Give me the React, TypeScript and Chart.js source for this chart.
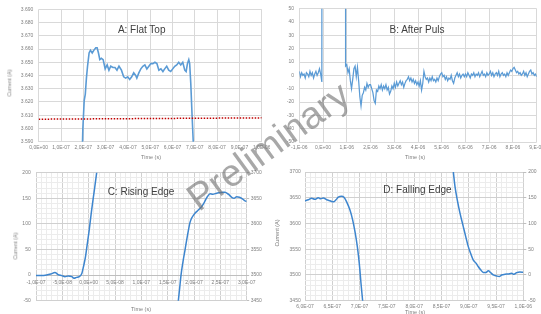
import React, { useEffect, useRef } from 'react';
import { Chart, registerables } from 'chart.js';

Chart.register(...registerables);

const FONT = "'Liberation Sans', Arial, sans-serif";
const TICK_COLOR = '#7f7f7f';
const TITLE_COLOR = '#404040';

// ---------- Panel A: Flat Top (time in ns, current in A) ----------
const aTimeNs = [192, 198, 204, 209, 214, 219, 226, 232, 240, 247, 256, 262, 268, 274, 281, 289, 298, 307, 315, 323, 333, 342, 351, 360, 371, 381, 390, 399, 408, 417, 426, 435, 440, 449, 458, 467, 476, 485, 494, 503, 512, 521, 530, 539, 548, 557, 565, 574, 583, 592, 601, 610, 619, 628, 637, 646, 655, 661, 667, 673, 677, 682, 688, 693, 698];
const aCurrentA = [3560, 3600, 3621, 3626, 3638, 3647, 3657, 3659, 3657, 3659, 3661, 3661, 3657, 3652, 3653, 3652, 3645, 3648, 3644, 3647, 3646, 3646, 3644, 3647, 3644, 3639, 3638, 3639, 3637, 3639, 3642, 3640, 3638, 3642, 3645, 3647, 3648, 3645, 3647, 3649, 3649, 3650, 3649, 3644, 3645, 3643, 3645, 3647, 3644, 3643, 3645, 3647, 3648, 3650, 3648, 3650, 3644, 3643, 3649, 3652, 3649, 3634, 3609, 3590, 3560];
const aRefTimeNs = [0, 1000];
const aRefCurrentA = [3607, 3608];
const aXTicks = [0, 100, 200, 300, 400, 500, 600, 700, 800, 900, 1000];
const aXLabels = ['0,0E+00', '1,0E-07', '2,0E-07', '3,0E-07', '4,0E-07', '5,0E-07', '6,0E-07', '7,0E-07', '8,0E-07', '9,0E-07', '1,0E-06'];
const aYTicks = [3590, 3600, 3610, 3620, 3630, 3640, 3650, 3660, 3670, 3680, 3690];
const aYLabels = ['3.590', '3.600', '3.610', '3.620', '3.630', '3.640', '3.650', '3.660', '3.670', '3.680', '3.690'];

// ---------- Panel B: After Puls (time in µs, sampled every 0.05 µs from -1 µs) ----------
const bStartUs = -1;
const bSampleUs = 0.05;
const bRowM1 = [3, -1, 2, 0, 1, -2, 2, 1, -1, 3, 0, 2, -2, 1, 3, 0, 2, 5, 1, -5];
const bRow0 = [3600, 3600, 3600, 3600, 3600, 3600, 3600, 3600, 3600, 3600, 3600, 3600, 3600, 3600, 3600, 3600, 3600, 3600, 3600, 7];
const bRow1 = [8, 2, 5, -4, -10, -3, 5, 7, -1, 6, -4, -16, -23, -15, -13, -9, -11, -6, -9, -7];
const bRow2 = [-7, -10, -13, -19, -21, -11, -12, -8, -10, -7, -11, -8, -10, -7, -11, -9, -14, -12, -8, -10];
const bRow3 = [-6, -9, -5, -8, -6, -4, -7, -5, -9, -6, -4, -3, -1, -4, -2, -5, -3, -6, -4, -7];
const bRow4 = [-5, -8, -4, -11, -6, 3, -1, -3, -2, -5, -2, -4, -1, -4, -3, -5, -2, -4, -1, 1];
const bRow5 = [2, -1, 0, -3, -1, -4, -2, -3, 0, -4, -6, -2, 0, 2, -1, 1, -2, 0, 1, -1];
const bRow6 = [1, -1, 2, 0, -2, 1, 0, 2, -1, 1, 0, 2, -1, 1, 3, 0, 1, -1, 2, 0];
const bRow7 = [1, 3, 0, 2, -1, 1, 2, 0, 3, -1, 1, 2, 0, 1, -1, 2, 0, 2, 4, 3];
const bRow8 = [5, 6, 4, 2, 3, 1, 2, 0, 1, 3, 0, 2, -1, 1, 3, 4, 1, 2, 0, 1];
const bRowEnd = [-1];
const bXTicks = [-1, 0, 1, 2, 3, 4, 5, 6, 7, 8, 9];
const bXLabels = ['-1,E-06', '0,E+00', '1,E-06', '2,E-06', '3,E-06', '4,E-06', '5,E-06', '6,E-06', '7,E-06', '8,E-06', '9,E-06'];
const bYTicks = [-50, -40, -30, -20, -10, 0, 10, 20, 30, 40, 50];
const bYLabels = ['-50', '-40', '-30', '-20', '-10', '0', '10', '20', '30', '40', '50'];

// ---------- Panel C: Rising Edge (time in ns) ----------
const cLowTimeNs = [-100, -90, -80, -72, -64, -58, -51, -45, -39, -32, -28, -23, -18, -13, -10, -6, -2.5, 1, 5.6, 10.8, 15.2, 19];
const cLowA = [-1, -1, 0, 2, 5, 1, -1, -3, -2, -3, -6, -4.5, -3, 3, 16, 36, 62, 88, 127, 166, 200, 230];
const cHighTimeNs = [163, 170.2, 172.8, 175.3, 179, 182.9, 187.5, 192.4, 197, 201.9, 205.1, 209, 214.6, 220, 225.2, 230.4, 235.5, 243.1, 249.3, 255, 258.8, 265.1, 271.6, 276, 281, 286, 290.5, 296.8, 300];
const cHighA = [3370, 3450, 3475, 3500, 3526, 3549, 3577, 3603, 3614, 3621, 3624, 3628, 3634, 3643, 3653, 3659, 3658, 3660, 3661, 3662, 3662, 3658, 3652, 3650, 3653, 3652, 3650, 3645, 3644];
const cXTicks = [-100, -50, 0, 50, 100, 150, 200, 250, 300];
const cXLabels = ['-1,0E-07', '-5,0E-08', '0,0E+00', '5,0E-08', '1,0E-07', '1,5E-07', '2,0E-07', '2,5E-07', '3,0E-07'];
const cYTicks = [-50, 0, 50, 100, 150, 200];
const cYLabels = ['-50', '0', '50', '100', '150', '200'];
const cY2Ticks = [3450, 3500, 3550, 3600, 3650, 3700];
const cY2Labels = ['3450', '3500', '3550', '3600', '3650', '3700'];

// ---------- Panel D: Falling Edge (time in ns) ----------
const dHighTimeNs = [600, 606, 612, 618, 624.4, 628.7, 633.6, 639.7, 645.8, 651.9, 656.8, 661, 667, 671.4, 676.3, 682.4, 687.3, 691.6, 695.9, 699.5, 702.6, 705.6, 710];
const dHighA = [3644, 3646, 3649, 3647, 3650, 3648, 3649.5, 3646, 3644, 3642, 3646, 3651, 3653, 3651, 3642, 3626, 3607, 3584, 3555, 3522, 3484, 3450, 3400];
const dLowTimeNs = [865, 871.8, 874.8, 879, 884, 890, 894.4, 899.2, 903.5, 908.4, 913.3, 917.6, 921.8, 926.7, 931.6, 935.9, 940.2, 945, 951.1, 956, 960.3, 966.4, 972.5, 978.6, 982.9, 987.8, 993.9, 1000];
const dLowA = [260, 200, 172, 146, 120, 94, 75, 55, 42, 29, 23, 16, 10, 5, 5, 8, 4.5, 0, -2, -3, 0, 1.3, 2, 3.2, 1.3, 4.5, 5.8, 5.2];
const dXTicks = [600, 650, 700, 750, 800, 850, 900, 950, 1000];
const dXLabels = ['6,0E-07', '6,5E-07', '7,0E-07', '7,5E-07', '8,0E-07', '8,5E-07', '9,0E-07', '9,5E-07', '1,0E-06'];
const dYTicks = [3450, 3500, 3550, 3600, 3650, 3700];
const dYLabels = ['3450', '3500', '3550', '3600', '3650', '3700'];
const dY2Ticks = [-50, 0, 50, 100, 150, 200];
const dY2Labels = ['-50', '0', '50', '100', '150', '200'];

// ---------- helpers ----------
function range(a: number, b: number, step: number) {
  const out: number[] = [];
  for (let v = a; v <= b + 1e-9; v += step) out.push(Math.round(v * 1000) / 1000);
  return out;
}

type AxisOpt = {
  position: any;
  min: number;
  max: number;
  major: number[];
  labels: string[];
  minor?: number[];
  size?: number;
  pad: number;
  tickLen?: number;
  onChart?: boolean;
  majorColor?: string;
  minorColor?: string;
  border?: string;
};

function axis(o: AxisOpt) {
  const all = o.minor ? Array.from(new Set([...o.minor, ...o.major])).sort((p, q) => p - q) : o.major;
  const majorColor = o.majorColor || '#d9d9d9';
  const minorColor = o.minorColor || '#eeeeee';
  return {
    type: 'linear',
    position: o.position,
    min: o.min,
    max: o.max,
    afterBuildTicks: (s: any) => {
      s.ticks = all.map((v) => ({ value: v }));
    },
    afterFit: (s: any) => {
      if (o.size !== undefined) {
        if (s.isHorizontal()) s.height = o.size;
        else s.width = o.size;
      }
      s.paddingLeft = 0;
      s.paddingRight = 0;
      s.paddingTop = 0;
      s.paddingBottom = 0;
    },
    grid: {
      display: true,
      drawOnChartArea: o.onChart !== false,
      drawTicks: !!o.tickLen,
      tickLength: o.tickLen || 0,
      tickColor: '#bfbfbf',
      color: (ctx: any) => (ctx.tick && o.major.indexOf(ctx.tick.value) < 0 ? minorColor : majorColor),
      lineWidth: 1,
    },
    border: { display: !!o.border, color: o.border || majorColor, width: 1 },
    ticks: {
      autoSkip: false,
      maxRotation: 0,
      minRotation: 0,
      padding: o.pad,
      color: TICK_COLOR,
      font: { family: FONT, size: 5 },
      callback: (v: any) => {
        const i = o.major.indexOf(Number(v));
        return i >= 0 ? o.labels[i] : '';
      },
    },
    title: { display: false },
  };
}

function series(xs: number[], ys: number[], color: string, width: number, yAxisID = 'y', extra: any = {}) {
  return {
    data: xs.map((x, i) => ({ x, y: ys[i] })),
    borderColor: color,
    backgroundColor: color,
    borderWidth: width,
    pointRadius: 0,
    fill: false,
    tension: 0,
    xAxisID: 'x',
    yAxisID,
    ...extra,
  };
}

function makeChart(canvas: HTMLCanvasElement, datasets: any[], scales: any, padding: any) {
  return new Chart(canvas, {
    type: 'line',
    data: { datasets },
    options: {
      responsive: false,
      animation: false,
      devicePixelRatio: 1,
      events: [],
      layout: { padding },
      plugins: { legend: { display: false }, tooltip: { enabled: false }, title: { display: false } },
      scales,
    } as any,
  } as any);
}

function Txt(props: { x: number; y: number; size: number; color: string; rotate?: number; children: any }) {
  return (
    <div
      style={{
        position: 'absolute',
        left: props.x,
        top: props.y,
        transform: `translate(-50%, -50%) rotate(${props.rotate || 0}deg)`,
        fontSize: props.size,
        color: props.color,
        fontFamily: FONT,
        whiteSpace: 'nowrap',
        lineHeight: 1,
      }}
    >
      {props.children}
    </div>
  );
}

const panelStyle = (left: number, top: number, w: number, h: number): React.CSSProperties => ({
  position: 'absolute',
  left,
  top,
  width: w,
  height: h,
  overflow: 'hidden',
});

export default function App() {
  const refA = useRef<HTMLCanvasElement>(null);
  const refB = useRef<HTMLCanvasElement>(null);
  const refC = useRef<HTMLCanvasElement>(null);
  const refD = useRef<HTMLCanvasElement>(null);

  useEffect(() => {
    const lineAB = '#5B9BD5';
    const lineCD = '#3D85CE';

    const chartA = makeChart(
      refA.current!,
      [
        series(aRefTimeNs, aRefCurrentA, '#C00000', 1.5, 'y', { borderDash: [1.5, 1.5] }),
        series(aTimeNs, aCurrentA, lineAB, 1.6),
      ],
      {
        x: axis({ position: 'bottom', min: 0, max: 1000, major: aXTicks, labels: aXLabels, size: 18.3, pad: 3 }),
        y: axis({ position: 'left', min: 3590, max: 3690, major: aYTicks, labels: aYLabels, size: 38.7, pad: 5.4 }),
      },
      { left: 0, top: 9.3, right: 8.3, bottom: 0 }
    );

    const bAll = [...bRowM1, ...bRow0, ...bRow1, ...bRow2, ...bRow3, ...bRow4, ...bRow5, ...bRow6, ...bRow7, ...bRow8, ...bRowEnd];
    const bTimes = bAll.map((_, i) => Math.round((bStartUs + i * bSampleUs) * 1000) / 1000);
    const chartB = makeChart(
      refB.current!,
      [series(bTimes, bAll, lineAB, 1.25)],
      {
        x: axis({ position: 'bottom', min: -1, max: 9, major: bXTicks, labels: bXLabels, size: 18, pad: 3 }),
        y: axis({ position: 'left', min: -50, max: 50, major: bYTicks, labels: bYLabels, size: 29.3, pad: 5.3 }),
      },
      { left: 0, top: 8.7, right: 4.3, bottom: 0 }
    );

    const chartC = makeChart(
      refC.current!,
      [
        series(cLowTimeNs, cLowA, lineCD, 1.5, 'y', { cubicInterpolationMode: 'monotone' }),
        series(cHighTimeNs, cHighA, lineCD, 1.5, 'y2', { cubicInterpolationMode: 'monotone' }),
      ],
      {
        x: axis({
          position: { y: 0 }, min: -100, max: 300, major: cXTicks, labels: cXLabels,
          minor: range(-100, 300, 10), pad: 4.7, majorColor: '#d0d0d0', minorColor: '#ececec', border: '#bfbfbf',
        }),
        y: axis({
          position: 'left', min: -50, max: 200, major: cYTicks, labels: cYLabels,
          minor: range(-50, 200, 10), size: 36, pad: 5.3, majorColor: '#d0d0d0', minorColor: '#ececec',
        }),
        y2: axis({
          position: 'right', min: 3450, max: 3700, major: cY2Ticks, labels: cY2Labels,
          size: 23.3, pad: 1.5, tickLen: 2.5, onChart: false,
        }),
      },
      { left: 0, top: 12.7, right: 0, bottom: 13.3 }
    );

    const chartD = makeChart(
      refD.current!,
      [
        series(dHighTimeNs, dHighA, lineCD, 1.5, 'y', { cubicInterpolationMode: 'monotone' }),
        series(dLowTimeNs, dLowA, lineCD, 1.5, 'y2', { cubicInterpolationMode: 'monotone' }),
      ],
      {
        x: axis({
          position: 'bottom', min: 600, max: 1000, major: dXTicks, labels: dXLabels,
          minor: range(600, 1000, 10), size: 13.3, pad: 3, majorColor: '#d0d0d0', minorColor: '#ececec',
        }),
        y: axis({
          position: 'left', min: 3450, max: 3700, major: dYTicks, labels: dYLabels,
          minor: range(3450, 3700, 10), size: 35, pad: 4.3, majorColor: '#d0d0d0', minorColor: '#ececec',
        }),
        y2: axis({
          position: 'right', min: -50, max: 200, major: dY2Ticks, labels: dY2Labels,
          size: 17.7, pad: 2, tickLen: 3, onChart: false,
        }),
      },
      { left: 0, top: 12, right: 0, bottom: 0 }
    );

    return () => {
      chartA.destroy();
      chartB.destroy();
      chartC.destroy();
      chartD.destroy();
    };
  }, []);

  return (
    <div style={{ position: 'fixed', left: 0, top: 0, width: 541, height: 314, background: '#ffffff', overflow: 'hidden' }}>
      <div style={panelStyle(0, 0, 270, 160)}>
        <canvas ref={refA} width={270} height={160} style={{ display: 'block', width: 270, height: 160 }} />
        <Txt x={141.7} y={30} size={10} color={TITLE_COLOR}>A: Flat Top</Txt>
        <Txt x={9.7} y={82.5} size={5.5} color={TICK_COLOR} rotate={-90}>Current (A)</Txt>
        <Txt x={151} y={157.5} size={5.5} color={TICK_COLOR}>Time (s)</Txt>
      </div>
      <div style={panelStyle(270, 0, 271, 160)}>
        <canvas ref={refB} width={271} height={160} style={{ display: 'block', width: 271, height: 160 }} />
        <Txt x={147} y={30} size={10} color={TITLE_COLOR}>B: After Puls</Txt>
        <Txt x={145} y={158} size={5.5} color={TICK_COLOR}>Time (s)</Txt>
      </div>
      <div style={panelStyle(0, 160, 270, 154)}>
        <canvas ref={refC} width={270} height={154} style={{ display: 'block', width: 270, height: 154 }} />
        <Txt x={141} y={31.7} size={10} color={TITLE_COLOR}>C: Rising Edge</Txt>
        <Txt x={15.8} y={85.8} size={5.5} color={TICK_COLOR} rotate={-90}>Current (A)</Txt>
        <Txt x={141} y={150} size={5.5} color={TICK_COLOR}>Time (s)</Txt>
      </div>
      <div style={panelStyle(270, 160, 271, 154)}>
        <canvas ref={refD} width={271} height={154} style={{ display: 'block', width: 271, height: 154 }} />
        <Txt x={147.5} y={30} size={10} color={TITLE_COLOR}>D: Falling Edge</Txt>
        <Txt x={7.5} y={73} size={5.5} color={TICK_COLOR} rotate={-90}>Current (A)</Txt>
        <Txt x={145} y={153.3} size={5.5} color={TICK_COLOR}>Time (s)</Txt>
      </div>
      <div
        style={{
          position: 'absolute',
          left: 268,
          top: 146,
          transform: 'translate(-50%, -50%) rotate(-36deg)',
          fontSize: 38,
          fontFamily: FONT,
          color: 'rgba(110,110,110,0.6)',
          whiteSpace: 'nowrap',
          lineHeight: 1,
          pointerEvents: 'none',
        }}
      >
        Preliminary
      </div>
    </div>
  );
}
